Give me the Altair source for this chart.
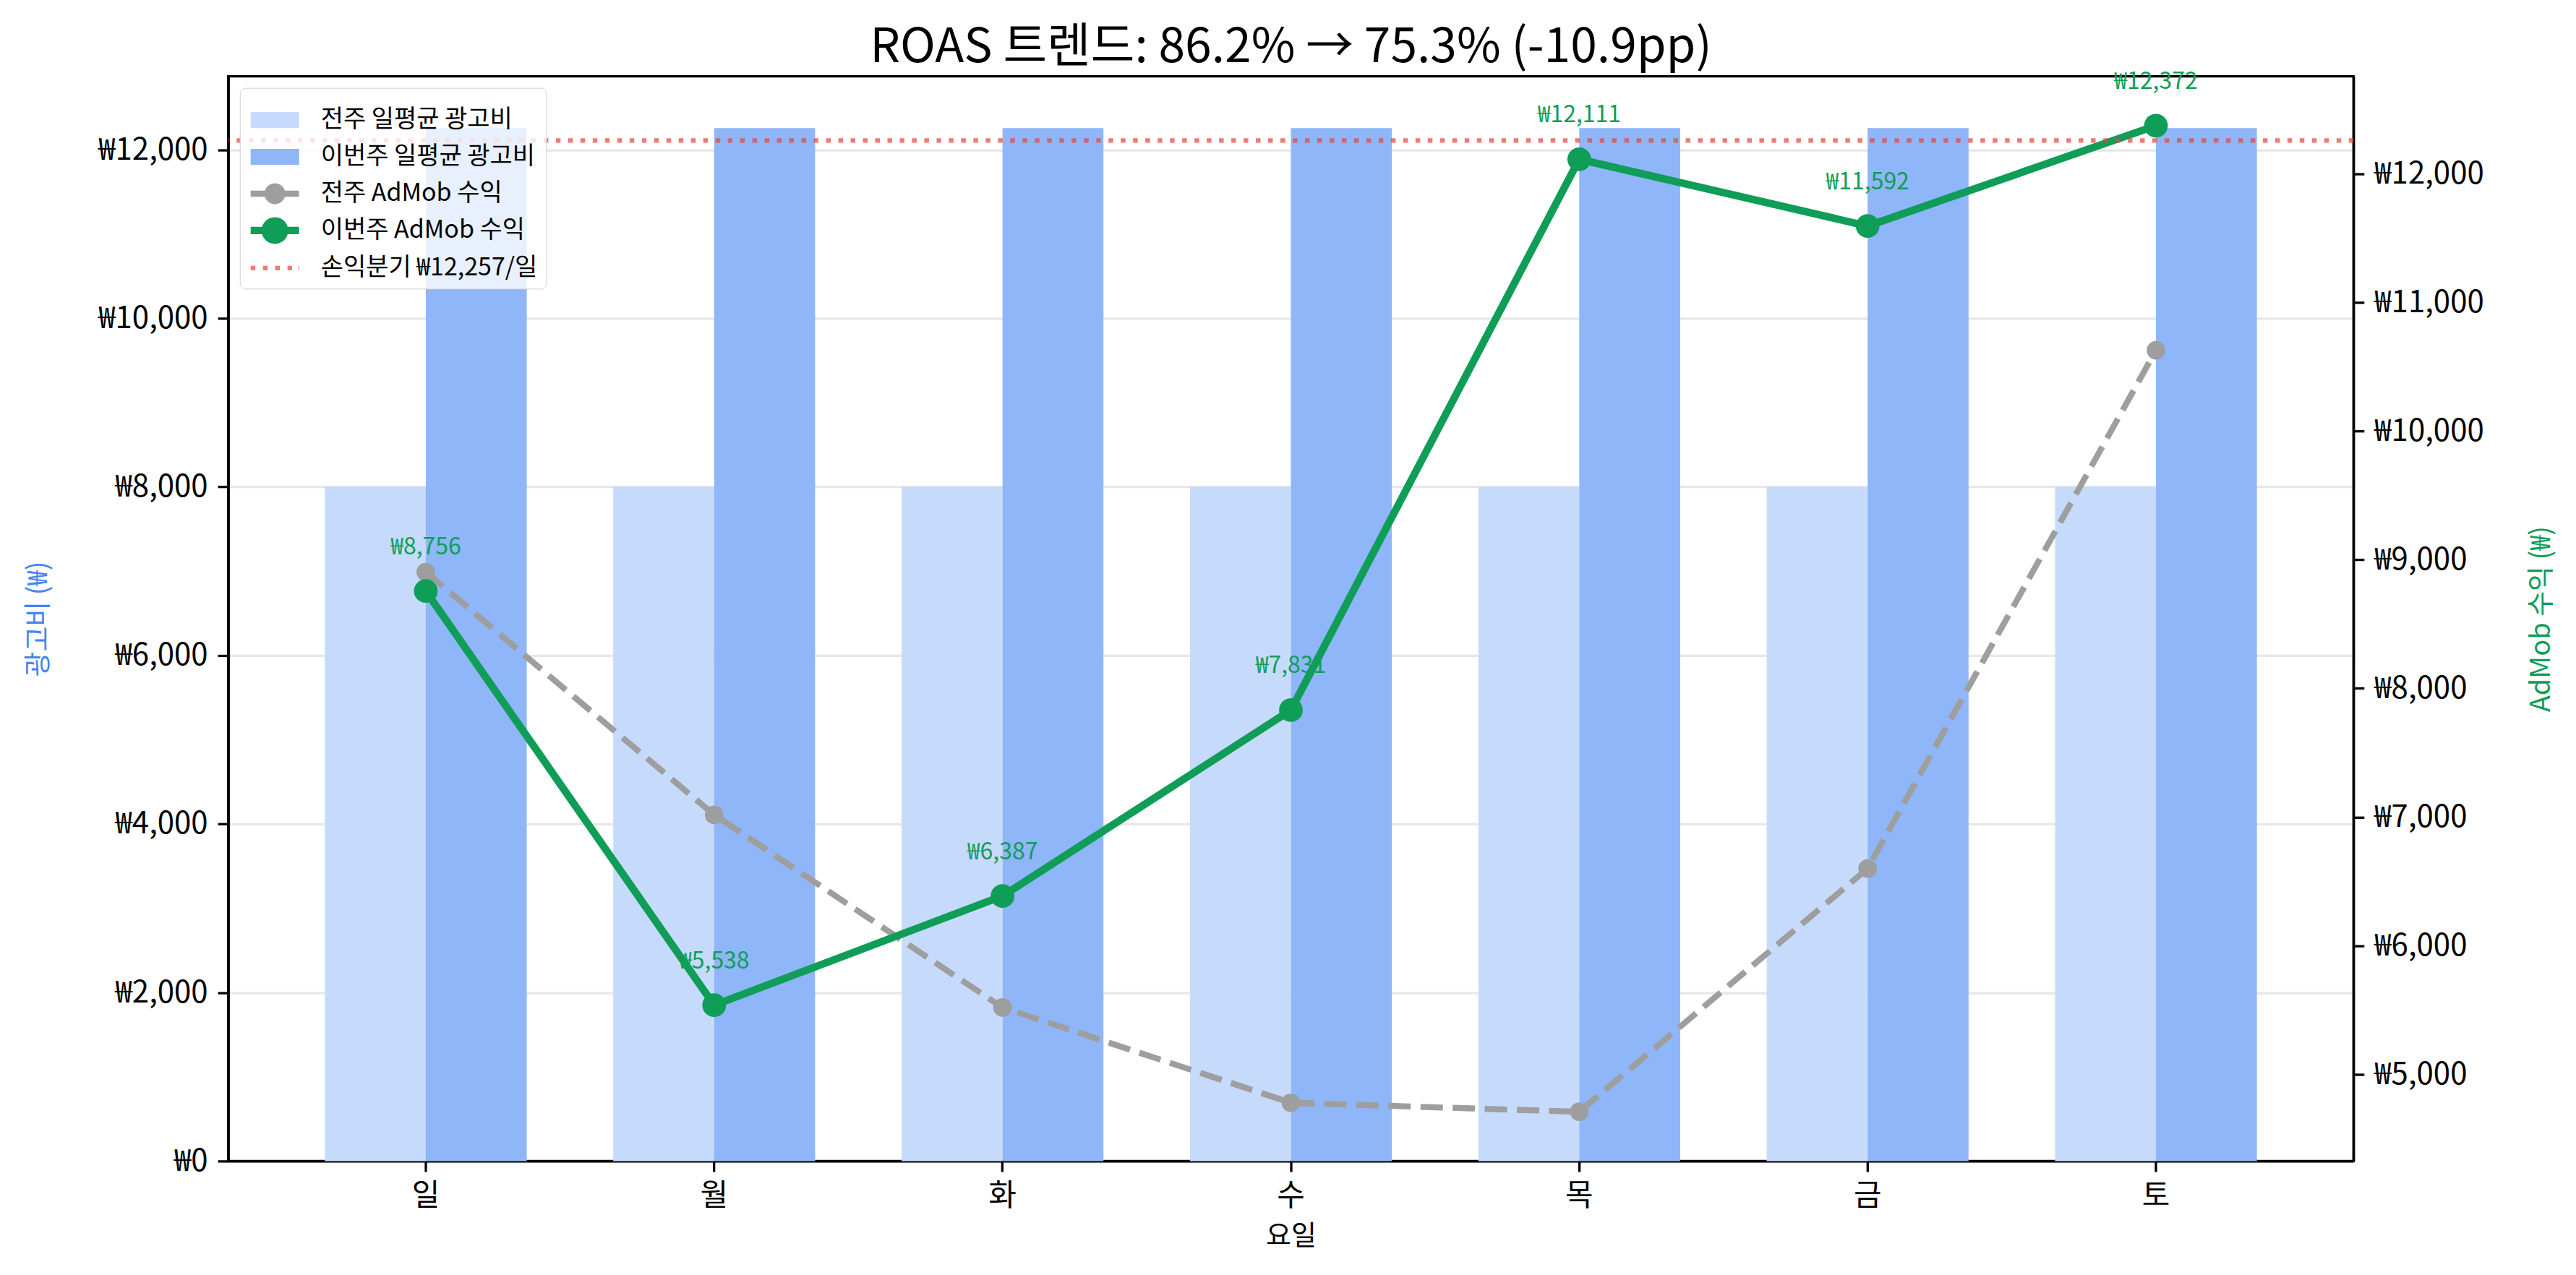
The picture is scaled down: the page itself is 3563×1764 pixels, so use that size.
import math
import altair as alt
import pandas as pd

# ---------------- data ----------------
days = ["일", "월", "화", "수", "목", "금", "토"]
prev_spend = [8000, 8000, 8000, 8000, 8000, 8000, 8000]
this_spend = [12257, 12257, 12257, 12257, 12257, 12257, 12257]
prev_revenue = [8904, 7017, 5520, 4780, 4710, 6600, 10627]
this_revenue = [8756, 5538, 6387, 7831, 12111, 11592, 12372]
break_even = [12257]
series_names = ["전주 일평균 광고비", "이번주 일평균 광고비", "전주 AdMob 수익",
                "이번주 AdMob 수익", "손익분기 ₩12,257/일"]
left_ticks = [0, 2000, 4000, 6000, 8000, 10000, 12000]
right_ticks = [5000, 6000, 7000, 8000, 9000, 10000, 11000, 12000]
title_text = "ROAS 트렌드: 86.2% → 75.3% (-10.9pp)"

# ---------------- styles ----------------
FONT = "Noto Sans CJK KR"
C_PREV_BAR = "#C6DAFC"
C_THIS_BAR = "#8EB6F8"
C_GRAY = "#9E9E9E"
C_GREEN = "#0F9D58"
C_RED = "#EA4335"
C_RED_LEG = "#F07B72"
C_BLUE = "#4285F4"


def circle_path(r, n=28):
    pts = []
    for i in range(n):
        a = 2 * math.pi * i / n
        pts.append(f"{r*math.cos(a):.4f},{r*math.sin(a):.4f}")
    return "M" + "L".join(pts) + "Z"


def rect_path(x0, y0, x1, y1):
    return f"M{x0},{y0}L{x1},{y0}L{x1},{y1}L{x0},{y1}Z"


sym_bar = rect_path(-1, -0.33, 1, 0.33)
sym_gray = rect_path(-1, -0.124, 1, 0.124) + circle_path(0.433)
sym_green = rect_path(-1, -0.154, 1, 0.154) + circle_path(0.552)
sym_dot = "".join(rect_path(round(s, 3), -0.093, round(s + 0.194, 3), 0.093)
                  for s in [-1, -0.493, 0.014, 0.521]) + rect_path(0.97, -0.093, 1, 0.093)

color_scale = alt.Scale(domain=series_names,
                        range=[C_PREV_BAR, C_THIS_BAR, C_GRAY, C_GREEN, C_RED_LEG])
shape_scale = alt.Scale(domain=series_names,
                        range=[sym_bar, sym_bar, sym_gray, sym_green, sym_dot])
bar_fill_scale = alt.Scale(domain=series_names[:2], range=[C_PREV_BAR, C_THIS_BAR])

spend_df = pd.DataFrame({
    "day": days * 2,
    "series": [series_names[0]] * len(days) + [series_names[1]] * len(days),
    "spend": prev_spend + this_spend,
})
rev_df = pd.DataFrame({"day": days, "prev": prev_revenue, "this": this_revenue})
be_df = pd.DataFrame({"be": break_even})
legend_df = pd.DataFrame({"series": series_names})


def x_enc():
    return alt.X("day:N", sort=days,
                 scale=alt.Scale(paddingInner=0.3, paddingOuter=0.335),
                 axis=alt.Axis(title="요일", labelAngle=0, titleFontSize=38, titlePadding=16))


left_scale = alt.Scale(domain=[0, 12870], nice=False, zero=True)
right_dom = [4327, 12755]
won_expr = "'₩' + format(datum.value, ',')"


def rscale():
    return alt.Scale(domain=right_dom, nice=False, zero=False)


legend_cfg = alt.Legend(
    title=None, orient="top-left", offset=16, padding=11, cornerRadius=8,
    fillColor="rgba(255,255,255,0.8)", strokeColor="#d0d0d0",
    symbolSize=4489, symbolStrokeWidth=0, symbolOpacity=1, symbolOffset=4,
    labelFontSize=34, labelOffset=30, rowPadding=-2, labelLimit=0,
    labelColor="black", labelFont=FONT,
)

bars = alt.Chart(spend_df).mark_bar().encode(
    x=x_enc(),
    xOffset=alt.XOffset("series:N", sort=series_names[:2],
                        scale=alt.Scale(paddingInner=0, paddingOuter=0)),
    y=alt.Y("spend:Q", scale=left_scale,
            axis=alt.Axis(values=left_ticks, labelExpr=won_expr, title="광고비 (₩)",
                          titleColor=C_BLUE, titleFontSize=38, titlePadding=63,
                          grid=True, gridColor="#b0b0b0", gridOpacity=0.3, gridWidth=3.3)),
    fill=alt.Fill("series:N", scale=bar_fill_scale, legend=None),
)

carrier = alt.Chart(legend_df).mark_point(filled=True, opacity=1).encode(
    color=alt.Color("series:N", scale=color_scale, legend=legend_cfg),
    shape=alt.Shape("series:N", scale=shape_scale, legend=legend_cfg),
).transform_filter("false")

rule = alt.Chart(be_df).mark_rule(color=C_RED, opacity=0.7, strokeWidth=6.3,
                                  strokeDash=[6.5, 10.5]).encode(
    y=alt.Y("be:Q", scale=rscale(),
            axis=alt.Axis(orient="right", values=right_ticks, labelExpr=won_expr,
                          title="AdMob 수익 (₩)", titleColor=C_GREEN, titleFontSize=38,
                          titleAngle=270, titleBaseline="top", titlePadding=61, grid=False)),
)

gray_line = alt.Chart(rev_df).mark_line(color=C_GRAY, strokeWidth=8.3,
                                        strokeDash=[31, 13.5]).encode(
    x=x_enc(), y=alt.Y("prev:Q", scale=rscale(), axis=None))
gray_pts = alt.Chart(rev_df).mark_point(filled=True, opacity=1, size=660, color=C_GRAY).encode(
    x=x_enc(), y=alt.Y("prev:Q", scale=rscale(), axis=None))
green_line = alt.Chart(rev_df).mark_line(color=C_GREEN, strokeWidth=10.4).encode(
    x=x_enc(), y=alt.Y("this:Q", scale=rscale(), axis=None))
green_pts = alt.Chart(rev_df).mark_point(filled=True, opacity=1, size=1075, color=C_GREEN).encode(
    x=x_enc(), y=alt.Y("this:Q", scale=rscale(), axis=None))
labels = alt.Chart(rev_df).transform_calculate(
    lab="'₩' + format(datum.this, ',')"
).mark_text(dy=-51, baseline="alphabetic", fontSize=32, color=C_GREEN, font=FONT).encode(
    x=x_enc(), y=alt.Y("this:Q", scale=rscale(), axis=None), text="lab:N")

chart = alt.layer(
    bars, gray_line, gray_pts, green_line, green_pts, rule, labels, carrier
).resolve_scale(y="independent").properties(
    width=2942, height=1502,
    padding={"left": 26, "top": 24, "right": 20, "bottom": 8},
    title=alt.TitleParams(title_text, fontSize=66, fontWeight="normal", anchor="middle",
                          offset=-55, color="black", font=FONT, baseline="alphabetic"),
).configure(font=FONT).configure_view(stroke="black", strokeWidth=3.3).configure_axis(
    domainColor="black", domainWidth=3.3, tickColor="black", tickWidth=3.3, tickSize=14.6,
    labelFontSize=42, labelColor="black", labelPadding=14, labelFont=FONT,
    titleFont=FONT, titleFontWeight="normal", titleColor="black",
)

chart.save("out.html", embed_options={"renderer": "svg", "actions": False})
